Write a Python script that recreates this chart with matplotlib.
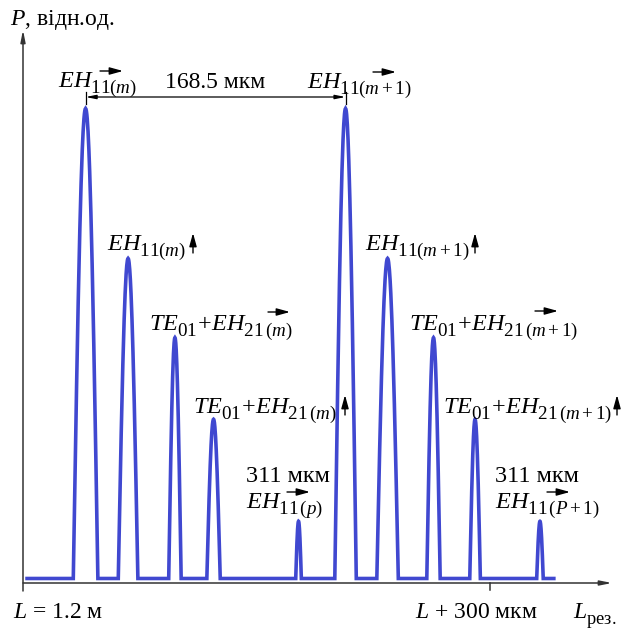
import numpy as np
import matplotlib.pyplot as plt
import matplotlib._mathtext as mtext

plt.rcParams['font.family'] = ['Liberation Serif', 'DejaVu Serif']
plt.rcParams['mathtext.fontset'] = 'custom'
plt.rcParams['mathtext.rm'] = 'Liberation Serif'
plt.rcParams['mathtext.it'] = 'Liberation Serif:italic'
plt.rcParams['mathtext.bf'] = 'Liberation Serif:bold'
# subscripts in the original are a bit larger and lower than mathtext's default
mtext.SHRINK_FACTOR = 0.78
mtext.FontConstantsBase.sub1 = 0.6

# peaks: position (мкм from L), height (відн.од.), half width at base (мкм)
centers = [40.2, 67.5, 97.6, 122.4, 177.0, 207.2, 234.2, 263.7, 290.4, 332.1]
heights = [1.0, 0.684, 0.517, 0.345, 0.130, 1.0, 0.684, 0.517, 0.345, 0.130]
halfw = [7.9, 6.3, 4.0, 4.3, 1.8, 6.9, 6.9, 4.3, 3.4, 2.1]
base = 0.0095
x_start, x_end = 2.6, 341.0

labels = [r'$EH_{11(m)}$',
          r'$EH_{11(m)}$',
          r'$TE_{01}\!+\!EH_{21\,(m)}$',
          r'$TE_{01}\!+\!EH_{21\,(m)}$',
          '311 мкм\n' + r'$EH_{11\,(p)}$',
          r'$EH_{11(m+1)}$',
          r'$EH_{11(m+1)}$',
          r'$TE_{01}\!+\!EH_{21\,(m+1)}$',
          r'$TE_{01}\!+\!EH_{21\,(m+1)}$',
          '311 мкм\n' + r'$EH_{11\,(P+1)}$']
# label anchors in pixels (left, baseline)
label_px = [(58, 87), (107, 250), (149, 330), (193, 413), (246, 508),
            (307, 88), (365, 250), (409, 330), (443, 413), (495, 508)]
# direction marks: horizontal arrows (x0, x1, y) and vertical ones (x, y0, y1)
harrows = [(100, 123, 71), (373, 396, 72), (268, 290, 312),
           (535, 558, 311), (287, 310, 492), (547, 570, 492)]
varrows = [(193, 253, 233), (345, 415, 395), (475, 253, 233), (617, 415, 395)]


def px(x, y):
    # picture pixels -> data units
    return (x - 23) * 0.6424, (583 - y) / 474.5


fig = plt.figure(figsize=(6.21, 6.30), dpi=100)
ax = fig.add_axes([0, 0, 1, 1])
ax.set_xlim(px(0, 0)[0], px(621, 0)[0])
ax.set_ylim(px(0, 630)[1], px(0, 0)[1])
ax.axis('off')

# the curve
xs = [x_start]
ys = [base]
for c, h, w in zip(centers, heights, halfw):
    t = np.linspace(-1, 1, 61)
    xs += list(c + w * t)
    ys += list(base + (h - base) * np.cos(np.pi * t / 2))
xs.append(x_end)
ys.append(base)
ax.plot(xs, ys, color='#4048D0', lw=2.6, solid_joinstyle='miter')

# axes with arrows
acol = '#333333'
ax.annotate('', xy=px(23, 30), xytext=px(23, 591),
            arrowprops=dict(arrowstyle='-|>,head_length=0.7,head_width=0.14',
                            color=acol, lw=1.1, shrinkA=0, shrinkB=0))
ax.annotate('', xy=px(612, 583), xytext=px(23, 583),
            arrowprops=dict(arrowstyle='-|>,head_length=0.7,head_width=0.14',
                            color=acol, lw=1.1, shrinkA=0, shrinkB=0))
ax.plot([300, 300], [0, px(0, 590)[1]], color=acol, lw=1.1)

fs = 17
ax.text(*px(10, 25), r'$P$, відн.од.', fontsize=fs, va='baseline')
ax.text(*px(13, 618), r'$L$ = 1.2 м', fontsize=fs, va='baseline')
ax.text(*px(415, 618), r'$L$ + 300 мкм', fontsize=fs, va='baseline')
ax.text(*px(573, 618), r'$L_{\mathrm{рез.}}$', fontsize=fs, va='baseline')

for s, (lx, ly) in zip(labels, label_px):
    ax.text(*px(lx, ly), s, fontsize=17.5, va='baseline', linespacing=1.25)

small = dict(arrowstyle='-|>,head_length=0.8,head_width=0.22',
             color='black', lw=1.0, shrinkA=0, shrinkB=0)
for x0, x1, y in harrows:
    ax.annotate('', xy=px(x1, y), xytext=px(x0, y), arrowprops=small)
for x, y0, y1 in varrows:
    ax.annotate('', xy=px(x, y1), xytext=px(x, y0), arrowprops=small)

# distance between EH11 peaks
yd = px(0, 97)[1]
ax.annotate('', xy=(centers[5], yd), xytext=(centers[0], yd),
            arrowprops=dict(arrowstyle='<|-|>,head_length=0.6,head_width=0.12',
                            color='black', lw=0.9, shrinkA=0, shrinkB=0))
for c in (centers[0], centers[5]):
    ax.plot([c, c], [px(0, 92)[1], px(0, 104)[1]], color='black', lw=0.9)
ax.text((centers[0] + centers[5]) / 2, px(0, 88)[1], '168.5 мкм',
        fontsize=fs, ha='center', va='baseline')

fig.savefig('out.png', dpi=100)
